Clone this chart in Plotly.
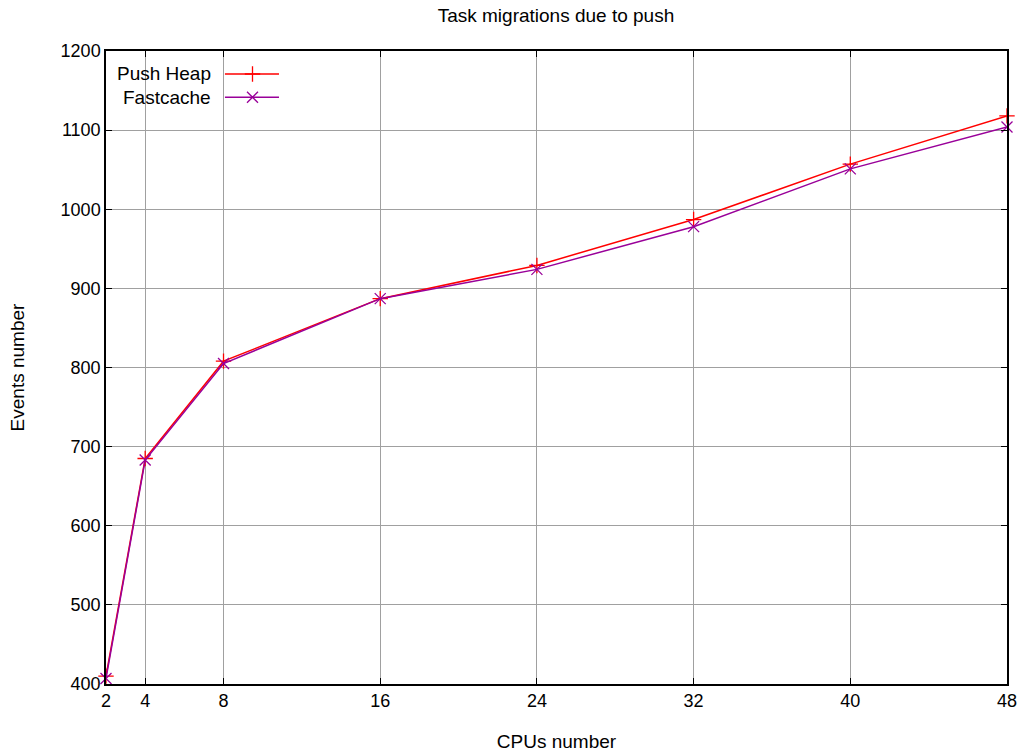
import plotly.graph_objects as go

cpus = [2, 4, 8, 16, 24, 32, 40, 48]
push_heap = [410, 685, 808, 887, 929, 987, 1057, 1118]
fastcache = [407, 683, 805, 887, 924, 978, 1051, 1104]
x_ticks = [2, 4, 8, 16, 24, 32, 40, 48]
y_ticks = [400, 500, 600, 700, 800, 900, 1000, 1100, 1200]

RED = "#ff0000"
PURPLE = "#990099"
FONT = "Liberation Sans, Arial, sans-serif"

fig = go.Figure()
fig.add_trace(go.Scatter(x=cpus, y=push_heap, mode="lines+markers", name="Push Heap",
                         line=dict(color=RED, width=1.5), cliponaxis=False,
                         marker=dict(symbol="cross-thin", size=11, line=dict(color=RED, width=1.3)),
                         showlegend=False))
fig.add_trace(go.Scatter(x=cpus, y=fastcache, mode="lines+markers", name="Fastcache",
                         line=dict(color=PURPLE, width=1.5), cliponaxis=False,
                         marker=dict(symbol="x-thin", size=11, line=dict(color=PURPLE, width=1.3)),
                         showlegend=False))

# gnuplot-style legend: text right-aligned, sample on the right
legend_items = [("Push Heap", RED, "cross-thin", 0.9637), ("Fastcache", PURPLE, "x-thin", 0.927)]
for name, col, sym, yy in legend_items:
    fig.add_trace(go.Scatter(x=[0.132, 0.192], y=[yy, yy], mode="lines", xaxis="x2", yaxis="y2",
                             line=dict(color=col, width=1.5), showlegend=False, hoverinfo="skip"))
    fig.add_trace(go.Scatter(x=[0.1626], y=[yy], mode="markers", xaxis="x2", yaxis="y2",
                             marker=dict(symbol=sym, size=11, line=dict(color=col, width=1.3)),
                             showlegend=False, hoverinfo="skip"))
    fig.add_annotation(x=0.1188, y=yy, xref="paper", yref="paper", text=name, showarrow=False,
                       xanchor="right", yanchor="middle", font=dict(family=FONT, size=19, color="black"))

axis_common = dict(showline=True, linecolor="black", linewidth=1.5, mirror="ticks",
                   ticks="inside", ticklen=6, tickcolor="black", tickwidth=1,
                   showgrid=True, gridcolor="#a0a0a0", gridwidth=1, zeroline=False,
                   ticklabeloverflow="allow", automargin=False,
                   tickfont=dict(family=FONT, size=18, color="black"))

fig.update_layout(
    width=1019, height=753,
    margin=dict(l=106, r=12, t=51, b=69),
    paper_bgcolor="white", plot_bgcolor="white",
    title=dict(text="Task migrations due to push", x=0.5456, xanchor="center", y=0.980, yanchor="middle",
               font=dict(family=FONT, size=19, color="black")),
    xaxis=dict(range=[2, 48], tickvals=x_ticks, ticktext=[str(v) for v in x_ticks],
               title=dict(text="CPUs number", font=dict(family=FONT, size=19, color="black"), standoff=24),
               **axis_common),
    yaxis=dict(range=[400, 1200], tickvals=y_ticks, ticktext=[str(v) for v in y_ticks],
               title=dict(text="Events number", font=dict(family=FONT, size=19, color="black"), standoff=31),
               **axis_common),
    xaxis2=dict(range=[0, 1], overlaying="x", visible=False, fixedrange=True),
    yaxis2=dict(range=[0, 1], overlaying="y", visible=False, fixedrange=True),
)

fig.write_html("out.html", config={"displayModeBar": False},
               post_script="document.body.style.margin='0';document.body.style.padding='0';"
                           "document.documentElement.style.overflow='hidden';")
